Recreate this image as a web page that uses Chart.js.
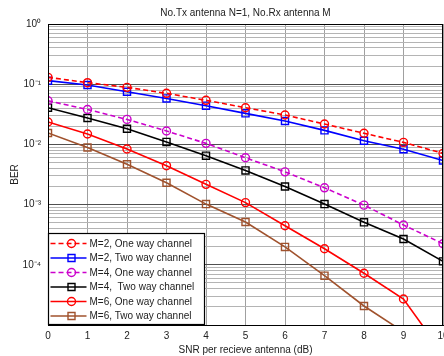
<!DOCTYPE html>
<html>
<head>
<meta charset="utf-8">
<script src="https://cdn.jsdelivr.net/npm/chart.js@4"></script>
<style>
  html, body { margin: 0; padding: 0; background: #fff; overflow: hidden; }
  canvas { display: block; }
</style>
</head>
<body>
<canvas id="berChart" width="470" height="356"></canvas>
<script>
const snr = [0, 1, 2, 3, 4, 5, 6, 7, 8, 9, 10];

// BER values
const m2OneWay = [0.130, 0.106, 0.0887, 0.0706, 0.054, 0.0407, 0.0308, 0.0218, 0.0153, 0.0108, 0.0071];
const m2TwoWay = [0.1145, 0.097, 0.075, 0.058, 0.044, 0.0328, 0.0245, 0.0171, 0.0115, 0.0083, 0.0054];
const m4OneWay = [0.053, 0.038, 0.026, 0.0167, 0.0104, 0.006, 0.0035, 0.0019, 0.00098, 0.000458, 0.000224];
const m4TwoWay = [0.0407, 0.0275, 0.0182, 0.011, 0.0065, 0.0037, 0.002, 0.00102, 0.000508, 0.000268, 0.000114];
const m6OneWay = [0.0236, 0.0149, 0.0084, 0.00443, 0.00217, 0.00108, 0.000446, 0.000185, 0.0000723, 0.000027, 0.0000033];
const m6TwoWay = [0.01546, 0.0089, 0.00467, 0.00231, 0.00102, 0.000514, 0.000198, 0.0000659, 0.0000207, 0.0000077, 0.0000025];

const chartTitle = "No.Tx antenna N=1, No.Rx antenna M";
const seriesLabels = [
  "M=2, One way channel",
  "M=2, Two way channel",
  "M=4, One way channel",
  "M=4,  Two way channel",
  "M=6, One way channel",
  "M=6, Two way channel",
];
const seriesColors = ["#ff0000", "#0000ff", "#cc00cc", "#000000", "#ff0000", "#a0522d"];
const seriesMarkers = ["circle", "rect", "circle", "rect", "circle", "rect"];
const seriesDashed = [true, false, true, false, false, false];

const decadeValues = [1, 0.1, 0.01, 0.001, 0.0001, 0.00001];
const decadeLabels = ["10\u2070", "10\u207B\u00B9", "10\u207B\u00B2", "10\u207B\u00B3", "10\u207B\u2074", ""];

const FONT = "'Liberation Sans', Arial, sans-serif";

// minor log ticks 1..9 per decade
let yTicks = [];
for (let e = -5; e <= 0; e++) {
  for (let s = 1; s <= 9; s++) {
    if (e === 0 && s > 1) break;
    yTicks.push(s * Math.pow(10, e));
  }
}

function isDecade(v) {
  return decadeValues.some((d) => Math.abs(v / d - 1) < 1e-6);
}

const allData = [m2OneWay, m2TwoWay, m4OneWay, m4TwoWay, m6OneWay, m6TwoWay];
const datasets = allData.map((vals, i) => ({
  label: seriesLabels[i],
  data: vals,
  borderColor: seriesColors[i],
  backgroundColor: "rgba(0,0,0,0)",
  borderWidth: 1.6,
  borderDash: seriesDashed[i] ? [5, 3] : [],
  pointStyle: seriesMarkers[i],
  pointRadius: seriesMarkers[i] === "circle" ? 4 : 5,
  pointBorderWidth: 1.4,
  pointBorderColor: seriesColors[i],
  pointBackgroundColor: "rgba(0,0,0,0)",
  tension: 0,
}));

const frameAndLegend = {
  id: "frameAndLegend",
  afterDatasetsDraw(chart) {
    const ctx = chart.ctx;
    const area = chart.chartArea;
    ctx.save();
    // legend box inside the plot, lower left
    const bx = area.left + 0.5, by = area.bottom - 91.5;
    const bw = 156, bh = 91;
    ctx.fillStyle = "#fff";
    ctx.fillRect(bx, by, bw, bh);
    ctx.strokeStyle = "#000";
    ctx.lineWidth = 1.2;
    ctx.setLineDash([]);
    ctx.strokeRect(bx, by, bw, bh);
    ctx.font = "10px " + FONT;
    ctx.textBaseline = "middle";
    ctx.textAlign = "left";
    for (let i = 0; i < seriesLabels.length; i++) {
      const y = by + 10 + i * 14.5;
      ctx.strokeStyle = seriesColors[i];
      ctx.lineWidth = 1.6;
      ctx.setLineDash(seriesDashed[i] ? [5, 3] : []);
      ctx.beginPath();
      ctx.moveTo(bx + 2, y);
      ctx.lineTo(bx + 38, y);
      ctx.stroke();
      ctx.setLineDash([]);
      ctx.lineWidth = 1.4;
      ctx.beginPath();
      if (seriesMarkers[i] === "circle") {
        ctx.arc(bx + 23, y, 4, 0, Math.PI * 2);
      } else {
        ctx.rect(bx + 19.5, y - 3.5, 7, 7);
      }
      ctx.stroke();
      ctx.fillStyle = "#222";
      ctx.fillText(seriesLabels[i], bx + 41, y + 0.5);
    }
    ctx.restore();
  },
  afterDraw(chart) {
    const ctx = chart.ctx;
    const area = chart.chartArea;
    ctx.save();
    ctx.strokeStyle = "#000";
    ctx.lineWidth = 1;
    ctx.strokeRect(area.left + 0.5, area.top + 0.5, area.right - area.left - 1, area.bottom - area.top);
    // title centred over the plot area
    ctx.font = "10px " + FONT;
    ctx.fillStyle = "#222";
    ctx.textAlign = "center";
    ctx.textBaseline = "middle";
    ctx.fillText(chartTitle, (area.left + area.right) / 2, area.top - 11);
    ctx.restore();
  },
};

const canvas = document.getElementById("berChart");
new Chart(canvas, {
  type: "line",
  data: { labels: snr, datasets: datasets },
  options: {
    responsive: false,
    animation: false,
    devicePixelRatio: 1,
    layout: { padding: { left: 0, right: 27, top: 24, bottom: 0 } },
    plugins: {
      legend: { display: false },
      tooltip: { enabled: false },
      title: { display: false },
    },
    scales: {
      x: {
        type: "linear",
        min: 0,
        max: 10,
        grid: { color: "#a0a0a0", lineWidth: 1, drawTicks: false },
        border: { display: true, color: "#000" },
        ticks: {
          stepSize: 1,
          padding: 5,
          color: "#222",
          font: { family: FONT, size: 10 },
        },
        title: {
          display: true,
          text: "SNR per recieve antenna (dB)",
          color: "#222",
          font: { family: FONT, size: 10 },
          padding: { top: 0, bottom: 0 },
        },
        afterFit(scale) {
          scale.height = 31;
        },
      },
      y: {
        type: "logarithmic",
        min: 0.00001,
        max: 1,
        afterBuildTicks(scale) {
          scale.ticks = yTicks.map((v) => ({ value: v }));
        },
        grid: {
          drawTicks: false,
          lineWidth: 1,
          color: (c) => (c.tick && isDecade(c.tick.value) ? "#505050" : "#b4b4b4"),
        },
        border: { display: true, color: "#000" },
        ticks: {
          autoSkip: false,
          padding: 7,
          color: "#222",
          font: { family: FONT, size: 10 },
          callback: function (value) {
            const k = decadeValues.findIndex((d) => Math.abs(value / d - 1) < 1e-6);
            return k >= 0 ? decadeLabels[k] : "";
          },
        },
        title: {
          display: true,
          text: "BER",
          color: "#222",
          font: { family: FONT, size: 10 },
          padding: { top: 9, bottom: 0 },
        },
        afterFit(scale) {
          scale.width = 48;
        },
      },
    },
  },
  plugins: [frameAndLegend],
});
</script>
</body>
</html>
